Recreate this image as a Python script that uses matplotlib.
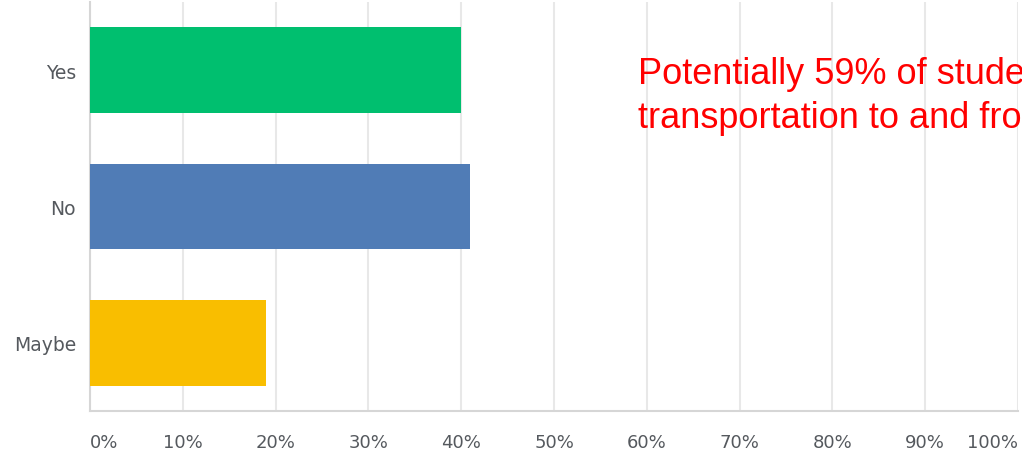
import matplotlib.pyplot as plt

# Dados da pesquisa
categorias = ["Yes", "No", "Maybe"]
valores = [40, 41, 19]
cores = ["#00BF6F", "#507CB6", "#F9BE00"]
ticks_x = list(range(0, 101, 10))
rotulos_x = [f"{t}%" for t in ticks_x]
nota = "Potentially 59% of students need\ntransportation to and from school"

fig = plt.figure(figsize=(10.22, 4.56), dpi=100)
ax = fig.add_axes([90/1022, 1 - 412/456, 928/1022, 409/456])

pos = range(len(categorias))
ax.barh(pos, valores, height=0.63, color=cores, zorder=3)
ax.set_ylim(len(categorias) - 0.5, -0.5)
ax.set_xlim(0, 100)

cinza = "#55595e"
ax.set_yticks(list(pos))
ax.set_yticklabels(categorias, fontsize=13.5, color=cinza, family="DejaVu Sans")
ax.set_xticks(ticks_x)
ax.set_xticklabels(rotulos_x, fontsize=13, color=cinza, family="DejaVu Sans")
labels = ax.get_xticklabels()
labels[0].set_horizontalalignment("left")
labels[-1].set_horizontalalignment("right")
ax.tick_params(axis="both", length=0)
ax.tick_params(axis="x", pad=16)
ax.tick_params(axis="y", pad=10)

ax.grid(axis="x", color="#e8e8e8", linewidth=1.5, zorder=0)
for lado in ["top", "right"]:
    ax.spines[lado].set_visible(False)
ax.spines["left"].set_color("#d6d6d6")
ax.spines["left"].set_linewidth(1.5)
ax.spines["bottom"].set_color("#d6d6d6")
ax.spines["bottom"].set_linewidth(1.5)

# texto em vermelho (cortado na borda direita como no original)
fig.text(638/1022, 1 - 128/456, nota, color="red", fontsize=26,
         family="Liberation Sans", va="baseline", ha="left", linespacing=1.35)

fig.savefig("out.png", dpi=100)
